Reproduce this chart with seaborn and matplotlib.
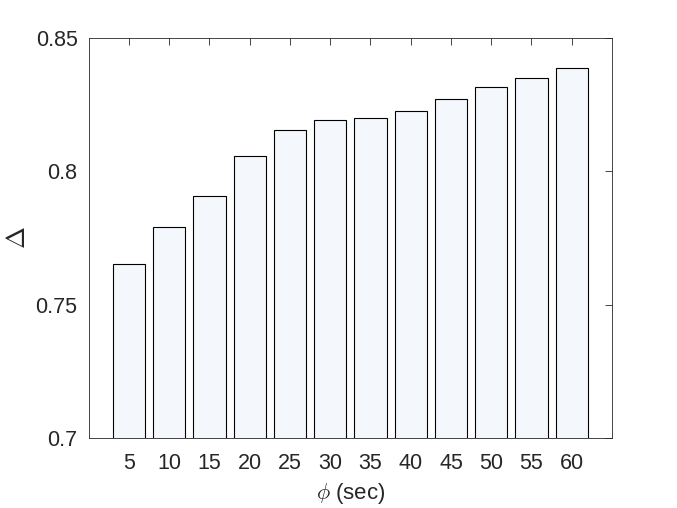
#!/usr/bin/env python3

import matplotlib
matplotlib.use('Agg')
import matplotlib.pyplot as plt
import seaborn as sns
import pandas as pd

sns.set_theme(style='white')
plt.rcParams['font.family'] = ['Liberation Sans', 'DejaVu Sans']
plt.rcParams['mathtext.fontset'] = 'cm'

# window length (sec) and the score
phi = [5, 10, 15, 20, 25, 30, 35, 40, 45, 50, 55, 60]
delta = [0.7653, 0.7791, 0.7908, 0.8056, 0.8157, 0.8194,
         0.8201, 0.8228, 0.8272, 0.8317, 0.8350, 0.8388]
yticks = [0.7, 0.75, 0.8, 0.85]
ytick_labels = ['0.7', '0.75', '0.8', '0.85']

df = pd.DataFrame({'phi': phi, 'delta': delta})

fig = plt.figure(figsize=(6.77, 5.08), dpi=100)
ax = fig.add_axes([0.131, 0.138, 0.773, 0.787])

sns.barplot(data=df, x='phi', y='delta', order=phi, color='#f4f7fc',
            saturation=1, width=0.8, edgecolor='black', linewidth=0.8, ax=ax)

ax.set_xlim(-1, 12)
ax.set_ylim(0.7, 0.85)
ax.set_yticks(yticks)
ax.set_yticklabels(ytick_labels)

for side in ['top', 'right', 'bottom', 'left']:
    ax.spines[side].set_visible(True)
    ax.spines[side].set_color('#262626')
    ax.spines[side].set_linewidth(0.6)

ax.tick_params(direction='in', length=5, width=0.6, color='#262626',
               top=True, right=True, labelsize=15.5, labelcolor='#262626')
ax.tick_params(axis='x', pad=11)
ax.tick_params(axis='y', pad=8)

ax.set_xlabel(r'$\phi$ (sec)', fontsize=16, color='#262626', labelpad=5)
ax.set_ylabel(r'$\Delta$', fontsize=19, color='#262626', labelpad=4)

fig.savefig('out.png', dpi=100)
